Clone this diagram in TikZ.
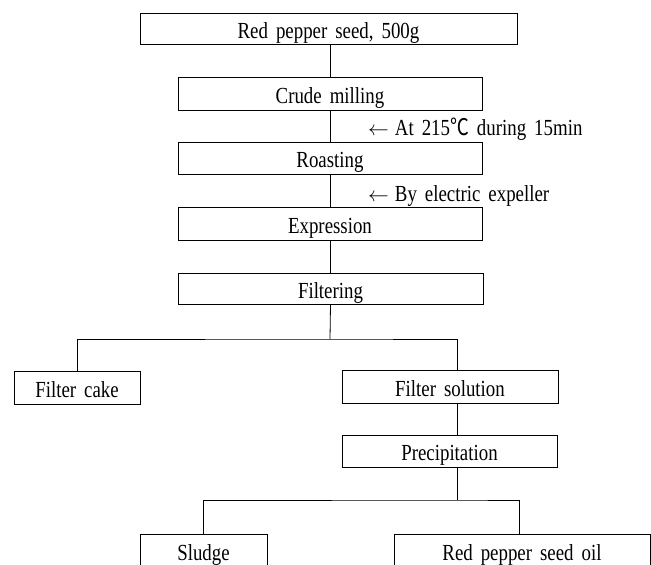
\documentclass[tikz,border=0pt]{standalone}
\usepackage{fontspec}
\setmainfont{Liberation Serif}[FakeStretch=0.82, WordSpace=1.7]
\newfontfamily\cjk{Noto Sans CJK SC}[FakeStretch=0.82]
\begin{document}
\begin{tikzpicture}[x=1pt,y=-1pt,
  procbox/.style={draw, line width=0.9pt, inner sep=0pt, text height=19pt, text depth=0pt, font=\fontsize{23}{26}\selectfont},
  conn/.style={line width=0.8pt},
  note/.style={anchor=base west, inner sep=0pt, font=\fontsize{23}{26}\selectfont}]
\useasboundingbox (0,0) rectangle (651,565);
\node[procbox, minimum width=377pt, minimum height=31pt] (seed) at (328.5,28.5) {Red pepper seed, 500g};
\node[procbox, minimum width=304pt, minimum height=33pt] (crude) at (330,93.5) {Crude milling};
\node[procbox, minimum width=304pt, minimum height=32pt] (roast) at (330,158) {Roasting};
\node[procbox, minimum width=304pt, minimum height=33pt] (expr) at (330,223.5) {Expression};
\node[procbox, minimum width=305pt, minimum height=31pt] (filt) at (330.5,288.5) {Filtering};
\node[procbox, minimum width=126pt, minimum height=33pt] (cake) at (77,387.5) {Filter cake};
\node[procbox, minimum width=216pt, minimum height=33pt] (sol) at (450,386.5) {Filter solution};
\node[procbox, minimum width=215pt, minimum height=32pt] (prec) at (449.5,451) {Precipitation};
\node[procbox, minimum width=127pt, minimum height=33pt] (sludge) at (203.5,550.5) {Sludge};
\node[procbox, minimum width=256pt, minimum height=33pt] (oil) at (522,550.5) {Red pepper seed oil};
\node[note] (n1) at (368,135) {{\fontsize{20}{24}\selectfont$\leftarrow$}\hspace{6pt}At 215{\cjk ℃} during 15min};
\node[note] (n2) at (368,201) {{\fontsize{20}{24}\selectfont$\leftarrow$}\hspace{6pt}By electric expeller};
\coordinate (b1) at (330,339);
\coordinate (b2) at (457,500);
\draw[conn] (crude.north |- seed.south) -- (crude.north);
\draw[conn] (crude.south) -- (roast.north);
\draw[conn] (roast.south) -- (expr.north);
\draw[conn] (expr.south) -- (filt.south |- expr.south) -- (filt.north);
\draw[conn] (filt.south) -- (b1);
\draw[conn] (cake.north) |- (b1) -| ([xshift=7pt]sol.north);
\draw[conn] ([xshift=7pt]sol.south) -- ([xshift=7pt]sol.south |- prec.north);
\draw[conn] ([xshift=7pt]sol.south |- prec.south) -- (b2);
\draw[conn] (sludge.north) |- (b2) -| ([xshift=-3pt]oil.north);
\end{tikzpicture}
\end{document}
